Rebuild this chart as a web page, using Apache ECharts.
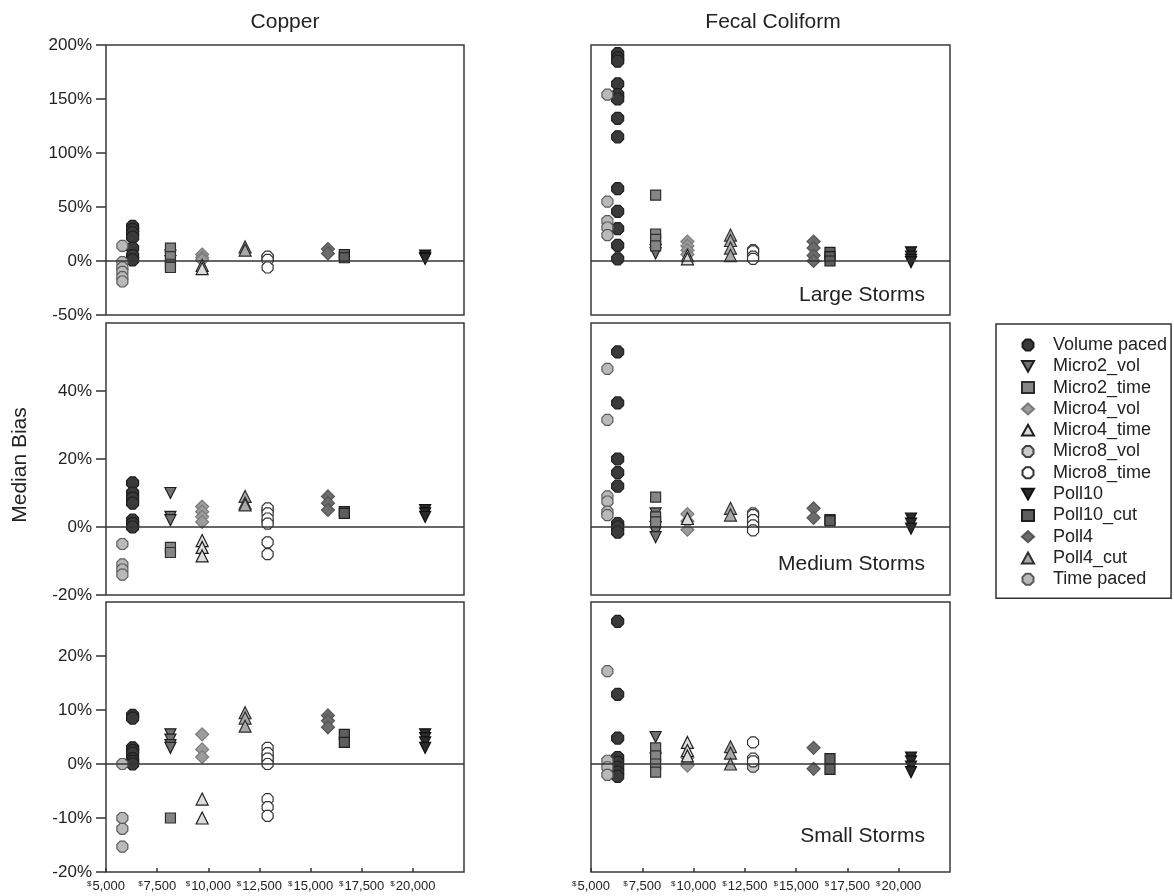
<!DOCTYPE html>
<html>
<head>
<meta charset="utf-8">
<script src="https://cdn.jsdelivr.net/npm/echarts@6/dist/echarts.min.js"></script>
<style>
  html, body { margin: 0; padding: 0; background: #fff; }
  #chart { width: 1174px; height: 896px; }
</style>
</head>
<body>
<div id="chart"></div>
<script>
// Sampling methods and their cost (x position of each method's column)
const methods = ['Volume paced', 'Micro2_vol', 'Micro2_time', 'Micro4_vol', 'Micro4_time',
  'Micro8_vol', 'Micro8_time', 'Poll10', 'Poll10_cut', 'Poll4', 'Poll4_cut', 'Time paced'];
const methodCost = [6300, 8150, 8150, 9700, 9700, 12900, 12900, 20600, 16650, 15850, 11800, 5800];

// Median bias (%) per method, in the order of `methods`
const copperLarge = [
  [32, 29, 26, 22, 12, 5, 1], [5, 0], [12, 4, -3, -6], [6, 3, 1], [-4, -7], [3],
  [4, 1, -6], [5, 3, 2], [6, 3], [11, 7], [13, 10], [14, -1, -6, -10, -15, -19]
];
const fecalLarge = [
  [192, 188, 185, 164, 154, 150, 132, 115, 67, 46, 30, 14.5, 2], [10, 7], [61, 25, 20, 14],
  [18, 14, 10, 6], [5, 2], [10], [9, 4, 2], [8, 4, 1, -1], [8, 4, 0], [18, 12, 5, 0],
  [24, 19, 12, 5], [154, 55, 37, 31, 24]
];
const copperMedium = [
  [13, 10, 8.5, 7, 2, 1, 0], [10, 3, 2], [-6, -7.5], [6, 4.5, 3, 1.5], [-4, -6, -8.5], [5, 1.5],
  [5.5, 4, 2.5, 1, -4.5, -8], [5, 4, 3], [4.5, 4], [9, 7, 5], [9, 7, 6.5], [-5, -11, -12.5, -14]
];
const fecalMedium = [
  [51.5, 36.5, 20, 16, 12, 1, 0, -1.5], [4, 0, -1.5, -3], [8.8, 3, 1.5], [3.8, 1.7, -0.8], [2.5],
  [4, 1, -0.5], [3.5, 2, 0.5, -1], [2.5, 1, -0.5], [2.2, 1.8], [5.5, 2.7], [5.5, 3.5],
  [46.5, 31.5, 9, 7.5, 4.5, 3.5]
];
const copperSmall = [
  [9, 8.5, 3, 2.5, 2, 1, 0.5, 0], [5.5, 4.5, 3.5, 3], [-10], [5.5, 2.7, 1.3], [-6.5, -10], [1.5, 0.5],
  [3, 2, 1, 0, -6.5, -8, -9.6], [5.5, 4.8, 4, 3], [5.5, 4], [9, 8, 6.8], [9.5, 8.5, 7], [0, -10, -12, -15.3]
];
const fecalSmall = [
  [26.4, 12.9, 4.8, 1.2, 0.3, -0.6, -1.5, -2.3], [5, 1], [3, 1.5, 0, -1.5], [1.2, 0, -0.3],
  [4, 2.5, 1.5], [0, -0.5], [4, 1, 0.5], [1.2, 0.5, -0.5, -1.5], [1, -1], [3, -0.9],
  [3.2, 2, 0], [17.2, 0.6, -0.6, -2]
];

// Panel order: row by row (Large, Medium, Small), Copper left, Fecal Coliform right
const panels = [copperLarge, fecalLarge, copperMedium, fecalMedium, copperSmall, fecalSmall];
const columnTitles = ['Copper', 'Fecal Coliform'];
const stormLabels = ['Large Storms', 'Medium Storms', 'Small Storms'];

// Axis scales per row
const yMin = [-50, -20, -20];
const yMax = [200, 60, 30];
const yStep = [50, 20, 10];
const xMin = 5000, xMax = 22500, xStep = 2500;

// Marker styles per method
const OCT = 'path://M3,0L7,0L10,3L10,7L7,10L3,10L0,7L0,3Z';
const DOWN = 'path://M0,0L10,0L5,9Z';
const UP = 'path://M5,0L10,9L0,9Z';
const symbols = [OCT, DOWN, 'rect', 'diamond', UP, OCT, OCT, DOWN, 'rect', 'diamond', UP, OCT];
const symbolSizes = [12, 11, 10, 13, 12, 11, 11, 11, 10, 13, 12, 11];
const fills = ['#3a3a3a', '#707070', '#858585', '#9c9c9c', '#dcdcdc', '#cacaca', '#ffffff',
  '#2b2b2b', '#5e5e5e', '#6c6c6c', '#a9a9a9', '#b9b9b9'];
const strokes = ['#1e1e1e', '#1e1e1e', '#2e2e2e', '#7a7a7a', '#1e1e1e', '#444444', '#333333',
  '#111111', '#1e1e1e', '#555555', '#2e2e2e', '#5a5a5a'];

const FONT = "'Liberation Sans', Arial, sans-serif";
const colLeft = [106, 591];
const colWidth = [358, 359];
const rowTop = [45, 323, 602];
const rowHeight = [270, 272, 270];

const grids = [], xAxes = [], yAxes = [], series = [];
panels.forEach((panel, p) => {
  const row = Math.floor(p / 2), col = p % 2;
  const bottomRow = row === 2, leftCol = col === 0;
  grids.push({
    left: colLeft[col], top: rowTop[row], width: colWidth[col], height: rowHeight[row],
    show: true, borderColor: '#3a3a3a', borderWidth: 1.5, backgroundColor: 'transparent'
  });
  xAxes.push({
    type: 'value', gridIndex: p, min: xMin, max: xMax, interval: xStep, position: 'bottom',
    splitLine: { show: false },
    axisLine: { show: false, onZero: false },
    axisTick: { show: bottomRow, inside: true, length: 4, lineStyle: { color: '#333', width: 1.5 } },
    axisLabel: {
      show: bottomRow, showMaxLabel: false, margin: 8,
      formatter: v => '{d|$}{n|' + v.toLocaleString('en-US') + '}',
      rich: {
        d: { fontSize: 8, fontFamily: FONT, color: '#222', padding: [0, 1, 5, 0] },
        n: { fontSize: 13, fontFamily: FONT, color: '#222' }
      }
    }
  });
  yAxes.push({
    type: 'value', gridIndex: p, min: yMin[row], max: yMax[row], interval: yStep[row],
    splitLine: { show: false },
    axisLine: { show: false, onZero: false },
    axisTick: { show: leftCol, length: 10, lineStyle: { color: '#333', width: 1.5 } },
    axisLabel: {
      show: leftCol, showMaxLabel: row === 0, margin: 14,
      formatter: v => v + '%', fontSize: 17, fontFamily: FONT, color: '#222'
    }
  });
  // zero reference line
  series.push({
    type: 'scatter', name: 'zero', xAxisIndex: p, yAxisIndex: p, data: [], silent: true,
    markLine: {
      silent: true, symbol: 'none', animation: false,
      label: { show: false },
      lineStyle: { color: '#333', type: 'solid', width: 1.5 },
      data: [{ yAxis: 0 }]
    }
  });
  panel.forEach((values, m) => {
    series.push({
      type: 'scatter', name: methods[m], xAxisIndex: p, yAxisIndex: p,
      data: values.map(v => [methodCost[m], v]),
      symbol: symbols[m], symbolSize: symbolSizes[m],
      itemStyle: { color: fills[m], borderColor: strokes[m], borderWidth: 1.2, opacity: 1 },
      emphasis: { disabled: true },
      z: 3
    });
  });
});

const titleStyle = { fontSize: 21, fontWeight: 'normal', fontFamily: FONT, color: '#222' };
const graphics = [
  {
    type: 'text', x: 20, y: 465, rotation: Math.PI / 2,
    style: { text: 'Median Bias', fontSize: 21, fontFamily: FONT, fill: '#222', align: 'center', verticalAlign: 'middle' }
  }
];
stormLabels.forEach((label, r) => {
  graphics.push({
    type: 'text', x: 925, y: [295, 564, 836][r],
    style: { text: label, fontSize: 21, fontFamily: FONT, fill: '#222', align: 'right', verticalAlign: 'middle' }
  });
});

const chart = echarts.init(document.getElementById('chart'), null, { renderer: 'canvas' });
chart.setOption({
  animation: false,
  backgroundColor: '#fff',
  title: [
    { text: columnTitles[0], left: 285, top: 22, textAlign: 'center', textVerticalAlign: 'middle', textStyle: titleStyle, padding: 0 },
    { text: columnTitles[1], left: 773, top: 22, textAlign: 'center', textVerticalAlign: 'middle', textStyle: titleStyle, padding: 0 }
  ],
  legend: {
    data: methods, orient: 'vertical', left: 996, top: 324,
    selectedMode: false,
    borderColor: '#333', borderWidth: 1.5,
    padding: [12, 4, 10, 25],
    itemWidth: 12, itemHeight: 11, itemGap: 3.3,
    textStyle: { fontSize: 18, lineHeight: 18, fontFamily: FONT, color: '#222', padding: [0, 0, 0, 14] }
  },
  graphic: graphics,
  grid: grids,
  xAxis: xAxes,
  yAxis: yAxes,
  series: series
});
</script>
</body>
</html>
